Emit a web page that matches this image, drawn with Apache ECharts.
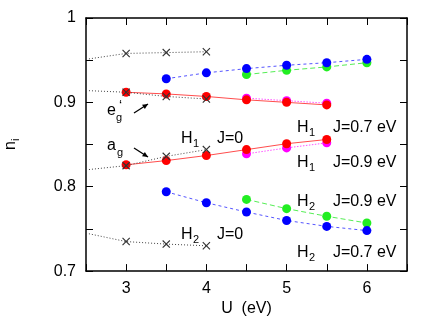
<!DOCTYPE html>
<html>
<head>
<meta charset="utf-8">
<script src="https://cdn.jsdelivr.net/npm/echarts@6/dist/echarts.min.js"></script>
<style>
  html, body { margin: 0; padding: 0; background: #fff; }
  #chart { width: 436px; height: 322px; }
</style>
</head>
<body>
<div id="chart"></div>
<script>
// U values (eV)
const crossU = [2.5, 3, 3.5, 4];
const redU = [3, 3.5, 4, 4.5, 5, 5.5];
const magentaU = [4.5, 5, 5.5];
const blueU = [3.5, 4, 4.5, 5, 5.5, 6];
const greenU = [4.5, 5, 5.5, 6];

// J=0 curves (crosses), first point is where the curve leaves the frame
const crossTop = [0.951, 0.958, 0.959, 0.960];
const crossEg = [0.914, 0.912, 0.907, 0.904];
const crossAg = [0.820, 0.825, 0.836, 0.844];
const crossH2 = [0.745, 0.735, 0.732, 0.730];

// H1
const redEg = [0.912, 0.910, 0.907, 0.903, 0.900, 0.897];
const redAg = [0.826, 0.831, 0.837, 0.844, 0.851, 0.856];
const magentaEg = [0.905, 0.902, 0.899];
const magentaAg = [0.839, 0.846, 0.852];

// H2 / top
const blueTop = [0.928, 0.935, 0.940, 0.944, 0.947, 0.951];
const blueBot = [0.794, 0.781, 0.770, 0.760, 0.753, 0.748];
const greenTop = [0.933, 0.938, 0.942, 0.947];
const greenBot = [0.785, 0.774, 0.765, 0.757];

const font = 'Liberation Sans, Arial, sans-serif';
const crossPath = 'path://M0,1L1,0L5,4L9,0L10,1L6,5L10,9L9,10L5,6L1,10L0,9L4,5Z';

function pairs(xs, ys) {
  return xs.map((x, i) => [x, ys[i]]);
}

function crossSeries(ys) {
  return {
    type: 'line',
    data: crossU.map((x, i) => i === 0 ? { value: [x, ys[i]], symbol: 'none' } : [x, ys[i]]),
    symbol: crossPath,
    symbolSize: 8,
    itemStyle: { color: '#333' },
    lineStyle: { color: '#444', width: 1, type: [1, 2] },
    z: 5
  };
}

function dotSeries(xs, ys, color, lineColor, dash, z) {
  return {
    type: 'line',
    data: pairs(xs, ys),
    symbol: 'circle',
    symbolSize: 9,
    itemStyle: { color: color },
    lineStyle: { color: lineColor, width: 1, type: dash },
    z: z
  };
}

function mirrorAxis(pos, extra) {
  return Object.assign({
    type: 'value',
    position: pos,
    axisLine: { show: true, onZero: false, lineStyle: { color: '#000', width: 1.5 } },
    axisTick: { show: true, inside: true, length: 7, lineStyle: { color: '#000' } },
    axisLabel: { show: false },
    splitLine: { show: false }
  }, extra);
}

var chart = echarts.init(document.getElementById('chart'));

var sub = function (txt, x, y) {
  return { type: 'text', x: x, y: y, style: { text: txt, font: '11px ' + font, fill: '#000', verticalAlign: 'middle' } };
};
var big = function (txt, x, y) {
  return { type: 'text', x: x, y: y, style: { text: txt, font: '16px ' + font, fill: '#000', verticalAlign: 'middle' } };
};
function hLabel(idx, rest, x, y) {
  return [big('H', x, y), sub(idx, x + 12, y + 5), big(rest, x + 27, y)];
}
function arrow(x1, y1, x2, y2) {
  var a = Math.atan2(y2 - y1, x2 - x1), L = 6, w = 0.45;
  return [
    { type: 'line', shape: { x1: x1, y1: y1, x2: x2, y2: y2 }, style: { stroke: '#000', lineWidth: 1.3 } },
    { type: 'polygon', shape: { points: [[x2, y2],
      [x2 - L * Math.cos(a - w), y2 - L * Math.sin(a - w)],
      [x2 - L * Math.cos(a + w), y2 - L * Math.sin(a + w)]] }, style: { fill: '#000' } }
  ];
}

var labels = [].concat(
  hLabel('1', '  J=0.7 eV', 297, 128),
  hLabel('1', '  J=0.9 eV', 297, 163),
  hLabel('2', '  J=0.9 eV', 297, 202),
  hLabel('2', '  J=0.7 eV', 297, 253),
  hLabel('1', '  J=0', 181, 139),
  hLabel('2', '  J=0', 181, 235),
  [big('e', 107, 111), sub('g', 116, 118),
   { type: 'text', x: 119, y: 99, style: { text: '\u2018', font: '14px ' + font, fill: '#000', verticalAlign: 'top' } }],
  [big('a', 107, 146), sub('g', 117, 153)],
  arrow(134, 113, 148, 104),
  arrow(134, 148, 148, 157),
  [{ type: 'text', x: 11, y: 150, rotation: Math.PI / 2,
     style: { text: 'n', font: '16px ' + font, fill: '#000', verticalAlign: 'middle' } },
   { type: 'text', x: 16, y: 141, rotation: Math.PI / 2,
     style: { text: 'i', font: '11px ' + font, fill: '#000', verticalAlign: 'middle' } }]
);

var option = {
  animation: false,
  backgroundColor: '#fff',
  grid: { left: 86, right: 29, top: 18, bottom: 45 },
  xAxis: [
    mirrorAxis('bottom', {
      min: 2.5, max: 6.5, interval: 0.5,
      axisLabel: {
        show: true, color: '#000', fontSize: 16, fontFamily: font, margin: 9,
        formatter: v => Number.isInteger(v) ? String(v) : ''
      },
      name: 'U  (eV)', nameLocation: 'middle', nameGap: 29,
      nameTextStyle: { color: '#000', fontSize: 16, fontFamily: font }
    }),
    mirrorAxis('top', { min: 2.5, max: 6.5, interval: 0.5 })
  ],
  yAxis: [
    mirrorAxis('left', {
      min: 0.7, max: 1, interval: 0.05,
      axisLabel: {
        show: true, color: '#000', fontSize: 16, fontFamily: font, margin: 10,
        formatter: v => Math.abs(v * 10 - Math.round(v * 10)) < 1e-6 ? String(Math.round(v * 10) / 10) : ''
      }
    }),
    mirrorAxis('right', { min: 0.7, max: 1, interval: 0.05 })
  ],
  graphic: labels,
  series: [
    dotSeries(magentaU, magentaEg, '#ff00ff', '#ff55ff', [1.5, 1.5], 2),
    dotSeries(magentaU, magentaAg, '#ff00ff', '#ff55ff', [1.5, 1.5], 2),
    dotSeries(redU, redEg, '#ff0000', '#ff4d4d', 'solid', 3),
    dotSeries(redU, redAg, '#ff0000', '#ff4d4d', 'solid', 3),
    dotSeries(greenU, greenTop, '#22ee22', '#55ee55', [5, 3], 2),
    dotSeries(greenU, greenBot, '#22ee22', '#55ee55', [5, 3], 2),
    dotSeries(blueU, blueTop, '#0000ff', '#5555ff', [3, 3], 3),
    dotSeries(blueU, blueBot, '#0000ff', '#5555ff', [3, 3], 3),
    crossSeries(crossTop),
    crossSeries(crossEg),
    crossSeries(crossAg),
    crossSeries(crossH2)
  ]
};
chart.setOption(option);
</script>
</body>
</html>
